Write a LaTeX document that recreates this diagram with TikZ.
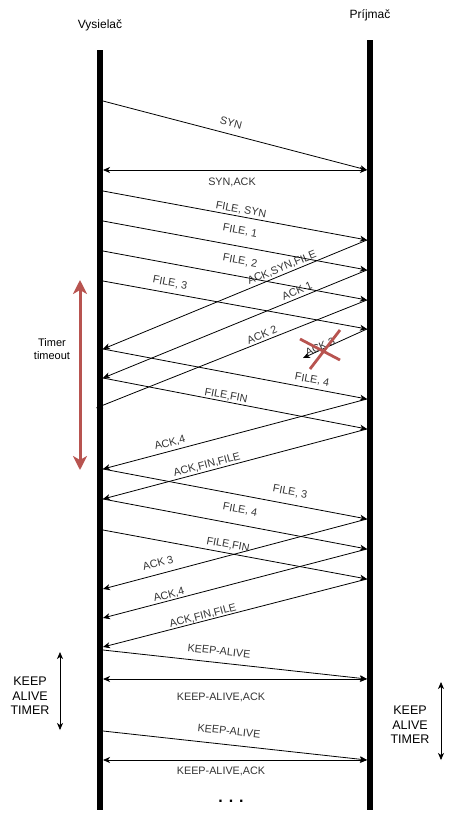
\documentclass[tikz,border=0pt]{standalone}
\usepackage{fontspec}
\setmainfont{Liberation Sans}
\usetikzlibrary{arrows.meta}
\definecolor{xred}{HTML}{B85450}
\definecolor{lblc}{HTML}{333333}
\begin{document}
\begin{tikzpicture}[x=1pt,y=-1pt,
  tip/.tip={Stealth[length=7pt,width=6pt,inset=2pt]},
  bigtip/.tip={Stealth[length=14pt,width=14pt,inset=4pt]},
  msg/.style={line width=0.8pt,-tip},
  bimsg/.style={line width=0.8pt,tip-tip},
  life/.style={line width=6pt},
  lbl/.style={text=lblc,font=\fontsize{10.8}{13}\selectfont,inner sep=0pt},
  head/.style={font=\fontsize{12}{14}\selectfont,inner sep=0pt},
  side/.style={font=\fontsize{12.5}{14.5}\selectfont,inner sep=0pt,align=center},
  redmark/.style={xred,line width=2.8pt},
]
\useasboundingbox (0,0) rectangle (450,815);

% headers
\node[head] (hv) at (100,25) {Vysielač};
\node[head] (hp) at (370,15) {Príjmač};

% lifeline end points
\coordinate (Ltop) at (100,50);
\coordinate (Lbot) at (100,810);
\coordinate (Rtop) at (370,40);
\coordinate (Rbot) at (370,810);

% left points
\foreach \y in {101,170,191,221,251,281,349,378,469,499,530,589,618,647,650,679,731,760}
  \coordinate (l\y) at (103,\y);
% right points
\foreach \y in {170,240,270,300,329,399,429,519,549,579,679,760}
  \coordinate (r\y) at (367,\y);
\coordinate (lost2) at (96,408);
\coordinate (lost3) at (303,358);

% messages
\draw[msg] (l101) -- (r170);
\draw[bimsg] (l170) -- (r170);
\draw[msg] (l191) -- (r240);
\draw[msg] (l221) -- (r270);
\draw[msg] (l251) -- (r300);
\draw[msg] (l281) -- (r329);
\draw[msg] (r240) -- (l349);
\draw[msg] (r270) -- (l378);
\draw[msg] (r300) -- (lost2);
\draw[msg] (r329) -- (lost3);
\draw[msg] (l349) -- (r399);
\draw[msg] (l378) -- (r429);
\draw[msg] (r399) -- (l469);
\draw[msg] (r429) -- (l499);
\draw[msg] (l469) -- (r519);
\draw[msg] (l499) -- (r549);
\draw[msg] (l530) -- (r579);
\draw[msg] (r519) -- (l589);
\draw[msg] (r549) -- (l618);
\draw[msg] (r579) -- (l647);
\draw[msg] (l650) -- (r679);
\draw[bimsg] (l679) -- (r679);
\draw[msg] (l731) -- (r760);
\draw[bimsg] (l760) -- (r760);

% lifelines
\draw[life] (Ltop) -- (Lbot);
\draw[life] (Rtop) -- (Rbot);

% labels
\node[lbl,rotate=-14.6] (tSYN) at (231,123) {SYN};
\node[lbl] (tSYNACK) at (232,182) {SYN,ACK};
\node[lbl,rotate=-10.5] (tFS) at (241,210) {FILE, SYN};
\node[lbl,rotate=-10.5] (tF1) at (240,231) {FILE, 1};
\node[lbl,rotate=-10.5] (tF2) at (240,261) {FILE, 2};
\node[lbl,rotate=-10.5] (tF3) at (170,283) {FILE, 3};
\node[lbl,rotate=22.2] (tASF) at (282,268) {ACK,SYN,FILE};
\node[lbl,rotate=22.2] (tA1) at (297,291) {ACK 1};
\node[lbl,rotate=22.2] (tA2) at (262,335) {ACK 2};
\node[lbl,rotate=24] (tA3) at (320,347) {ACK 3};
\node[lbl,rotate=-10.5] (tF4) at (312,380) {FILE, 4};
\node[lbl,rotate=-10.5] (tFF) at (226,396) {FILE,FIN};
\node[lbl,rotate=14.9] (tA4) at (170,443) {ACK,4};
\node[lbl,rotate=14.9] (tAFF) at (207,465) {ACK,FIN,FILE};
\node[lbl,rotate=-10.5] (tF3b) at (290,492) {FILE, 3};
\node[lbl,rotate=-10.5] (tF4b) at (240,510) {FILE, 4};
\node[lbl,rotate=-10.5] (tFFb) at (228,545) {FILE,FIN};
\node[lbl,rotate=14.9] (tA3b) at (158,563) {ACK 3};
\node[lbl,rotate=14.9] (tA4b) at (169,595) {ACK,4};
\node[lbl,rotate=14.9] (tAFFb) at (203,616) {ACK,FIN,FILE};
\node[lbl,rotate=-6.3] (tKA1) at (219,651) {KEEP-ALIVE};
\node[lbl] (tKAA1) at (221,697) {KEEP-ALIVE,ACK};
\node[lbl,rotate=-6.1] (tKA2) at (229,731) {KEEP-ALIVE};
\node[lbl] (tKAA2) at (221,771) {KEEP-ALIVE,ACK};

% lost ACK cross
\draw[redmark] (300,339) -- (340,360);
\draw[redmark] (310,369) -- (340,330);

% timer timeout
\coordinate (tt1) at (80,280);
\coordinate (tt2) at (80,470);
\draw[redmark,line width=3pt,bigtip-bigtip] (tt1) -- (tt2);
\node[font=\fontsize{11}{13}\selectfont,align=center,inner sep=0pt] (ttl) at (52,349) {Timer\\timeout};

% keep alive timers
\coordinate (ka1) at (60,652);
\coordinate (ka2) at (60,730);
\draw[bimsg] (ka1) -- (ka2);
\node[side] (kal) at (30,696) {KEEP\\ALIVE\\TIMER};
\coordinate (kb1) at (441,682);
\coordinate (kb2) at (441,760);
\draw[bimsg] (kb1) -- (kb2);
\node[side] (kar) at (410,725) {KEEP\\ALIVE\\TIMER};

% continuation
\node[font=\fontsize{16}{16}\selectfont\bfseries,inner sep=0pt] (dots) at (231,801) {. . .};
\end{tikzpicture}
\end{document}
